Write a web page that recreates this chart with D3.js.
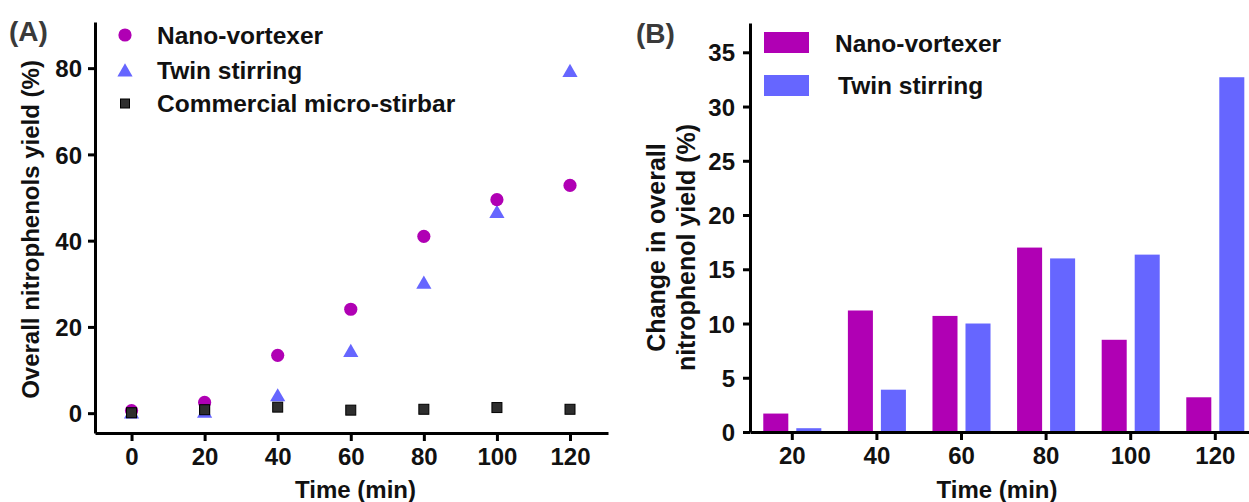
<!DOCTYPE html>
<html>
<head>
<meta charset="utf-8">
<script src="https://cdn.jsdelivr.net/npm/d3@7"></script>
<style>
  html, body { margin: 0; padding: 0; background: #fff; }
  svg { display: block; font-family: "Liberation Sans", Arial, sans-serif; font-weight: bold; }
  .axis path, .axis line { stroke: #000; stroke-width: 3; }
  .axis text { font-size: 24px; font-weight: bold; fill: #111; font-family: "Liberation Sans", Arial, sans-serif; }
</style>
</head>
<body>
<svg id="chart" width="1249" height="502"></svg>
<script>
// ---- Panel A: overall nitrophenols yield over time ----
const timesA = [0, 20, 40, 60, 80, 100, 120];
const nanoYield = [0.6, 2.5, 13.4, 24.1, 41.0, 49.5, 52.8];
const twinYield = [0.0, 0.2, 4.0, 14.3, 30.1, 46.5, 79.2];
const commercialYield = [0.1, 0.8, 1.4, 0.7, 0.9, 1.3, 0.9];
const yTicksA = [0, 20, 40, 60, 80];

// ---- Panel B: change in overall yield per interval ----
const timesB = [20, 40, 60, 80, 100, 120];
const nanoChange = [1.7, 11.2, 10.7, 17.0, 8.5, 3.2];
const twinChange = [0.35, 3.9, 10.0, 16.0, 16.35, 32.7];
const yTicksB = [0, 5, 10, 15, 20, 25, 30, 35];

const seriesNames = ["Nano-vortexer", "Twin stirring", "Commercial micro-stirbar"];
const magenta = "#b000b4";
const blue = "#6666ff";
const square = "#2e2e2e";

const svg = d3.select("#chart");

// ================= Panel A =================
const xA = d3.scaleLinear().domain([-10, 130.4]).range([95, 608]);
const yA = d3.scaleLinear().domain([-4.6, 90.7]).range([433, 22]);

const gA = svg.append("g");

gA.append("g").attr("class", "axis")
  .attr("transform", `translate(0,${yA.range()[0]})`)
  .call(d3.axisBottom(xA).tickValues(timesA).tickSize(8).tickSizeOuter(0).tickPadding(5))
  .call(g => g.selectAll("text").attr("dy", "0.8em"));

gA.append("g").attr("class", "axis")
  .attr("transform", `translate(${xA.range()[0]},0)`)
  .call(d3.axisLeft(yA).tickValues(yTicksA).tickSize(7).tickSizeOuter(0).tickPadding(6))
  .call(g => g.selectAll("text").attr("dy", "0.36em"));

// points
const tri = d3.symbol().type(d3.symbolTriangle).size(100);

const squareMarks = (g, data) => g.selectAll("rect")
  .data(data)
  .join("rect")
  .attr("x", d => xA(d[0]) - 5).attr("y", d => yA(d[1]) - 5)
  .attr("width", 10).attr("height", 10)
  .attr("fill", square).attr("stroke", "#000").attr("stroke-width", 1);

const commercialPts = timesA.map((t, i) => [t, commercialYield[i]]);
squareMarks(gA.append("g"), commercialPts);

gA.append("g").selectAll("path")
  .data(timesA.map((t, i) => [t, twinYield[i]]))
  .join("path")
  .attr("d", tri)
  .attr("transform", d => `translate(${xA(d[0])},${yA(d[1]) + 1})`)
  .attr("fill", blue);

gA.append("g").selectAll("circle")
  .data(timesA.map((t, i) => [t, nanoYield[i]]))
  .join("circle")
  .attr("cx", d => xA(d[0])).attr("cy", d => yA(d[1]))
  .attr("r", 6.6).attr("fill", magenta);

// commercial squares stay on top of the near-zero marks
squareMarks(gA.append("g"), commercialPts.slice(0, 2));

// legend A
const legA = gA.append("g").attr("transform", "translate(125,35)");
legA.append("circle").attr("cx", 0).attr("cy", 0).attr("r", 6.6).attr("fill", magenta);
legA.append("path").attr("d", tri).attr("transform", "translate(0,37)").attr("fill", blue);
legA.append("rect").attr("x", -4.5).attr("y", 64).attr("width", 9).attr("height", 9)
  .attr("fill", square).attr("stroke", "#000").attr("stroke-width", 1);
legA.selectAll("text").data(seriesNames).join("text")
  .attr("x", 32).attr("y", (d, i) => [0, 35, 68][i]).attr("dy", "0.36em")
  .attr("font-size", 24.5).attr("fill", "#111").text(d => d);

// titles A
gA.append("text").attr("x", (xA.range()[0] + xA.range()[1]) / 2 + 4).attr("y", 489)
  .attr("text-anchor", "middle").attr("dy", "0.36em")
  .attr("font-size", 24).attr("fill", "#111").text("Time (min)");
gA.append("text")
  .attr("transform", `translate(30,${(yA.range()[0] + yA.range()[1]) / 2 + 2}) rotate(-90)`)
  .attr("text-anchor", "middle").attr("dy", "0.36em")
  .attr("font-size", 24).attr("fill", "#111").text("Overall nitrophenols yield (%)");
gA.append("text").attr("x", 9).attr("y", 31).attr("dy", "0.36em")
  .attr("font-size", 28).attr("fill", "#3a3a3a").text("(A)");

// ================= Panel B =================
const xB = d3.scaleBand().domain(timesB).range([750, 1257.6]).paddingInner(0.314).paddingOuter(0.157);
const xB1 = d3.scaleBand().domain(["nano", "twin"]).range([0, xB.bandwidth()]).paddingInner(0.242);
const yB = d3.scaleLinear().domain([0, 37.7]).range([432, 23]);

const gB = svg.append("g");

const rows = timesB.map((t, i) => ({ t, nano: nanoChange[i], twin: twinChange[i] }));
const groups = gB.append("g").selectAll("g").data(rows).join("g")
  .attr("transform", d => `translate(${xB(d.t)},0)`);
groups.selectAll("rect")
  .data(d => [{ k: "nano", v: d.nano }, { k: "twin", v: d.twin }])
  .join("rect")
  .attr("x", d => xB1(d.k)).attr("width", xB1.bandwidth())
  .attr("y", d => yB(d.v)).attr("height", d => yB(0) - yB(d.v))
  .attr("fill", d => d.k === "nano" ? magenta : blue);

gB.append("g").attr("class", "axis")
  .attr("transform", `translate(0,${yB(0)})`)
  .call(d3.axisBottom(xB).tickSize(8).tickSizeOuter(0).tickPadding(5))
  .call(g => g.selectAll("text").attr("dy", "0.8em"));

gB.append("g").attr("class", "axis")
  .attr("transform", `translate(${xB.range()[0]},0)`)
  .call(d3.axisLeft(yB).tickValues(yTicksB).tickSize(7).tickSizeOuter(0).tickPadding(8))
  .call(g => g.selectAll("text").attr("dy", "0.36em"));

// legend B
const legB = gB.append("g").attr("transform", "translate(764,32)");
legB.selectAll("rect").data([magenta, blue]).join("rect")
  .attr("x", 0).attr("y", (d, i) => i * 43).attr("width", 45).attr("height", 21)
  .attr("fill", d => d);
legB.selectAll("text").data(seriesNames.slice(0, 2)).join("text")
  .attr("x", (d, i) => 71 + i * 3).attr("y", (d, i) => 11 + i * 42).attr("dy", "0.36em")
  .attr("font-size", 24.5).attr("fill", "#111").text(d => d);

// titles B
gB.append("text").attr("x", 997).attr("y", 489)
  .attr("text-anchor", "middle").attr("dy", "0.36em")
  .attr("font-size", 24).attr("fill", "#111").text("Time (min)");
const yTitleB = gB.append("text")
  .attr("transform", `translate(672,${(yB.range()[0] + yB.range()[1]) / 2 + 20}) rotate(-90)`)
  .attr("text-anchor", "middle").attr("font-size", 25).attr("fill", "#111");
yTitleB.append("tspan").attr("x", 0).attr("dy", "-0.3em").text("Change in overall");
yTitleB.append("tspan").attr("x", 0).attr("dy", "1.2em").text("nitrophenol yield (%)");
gB.append("text").attr("x", 636).attr("y", 33).attr("dy", "0.36em")
  .attr("font-size", 28).attr("fill", "#3a3a3a").text("(B)");
</script>
</body>
</html>
